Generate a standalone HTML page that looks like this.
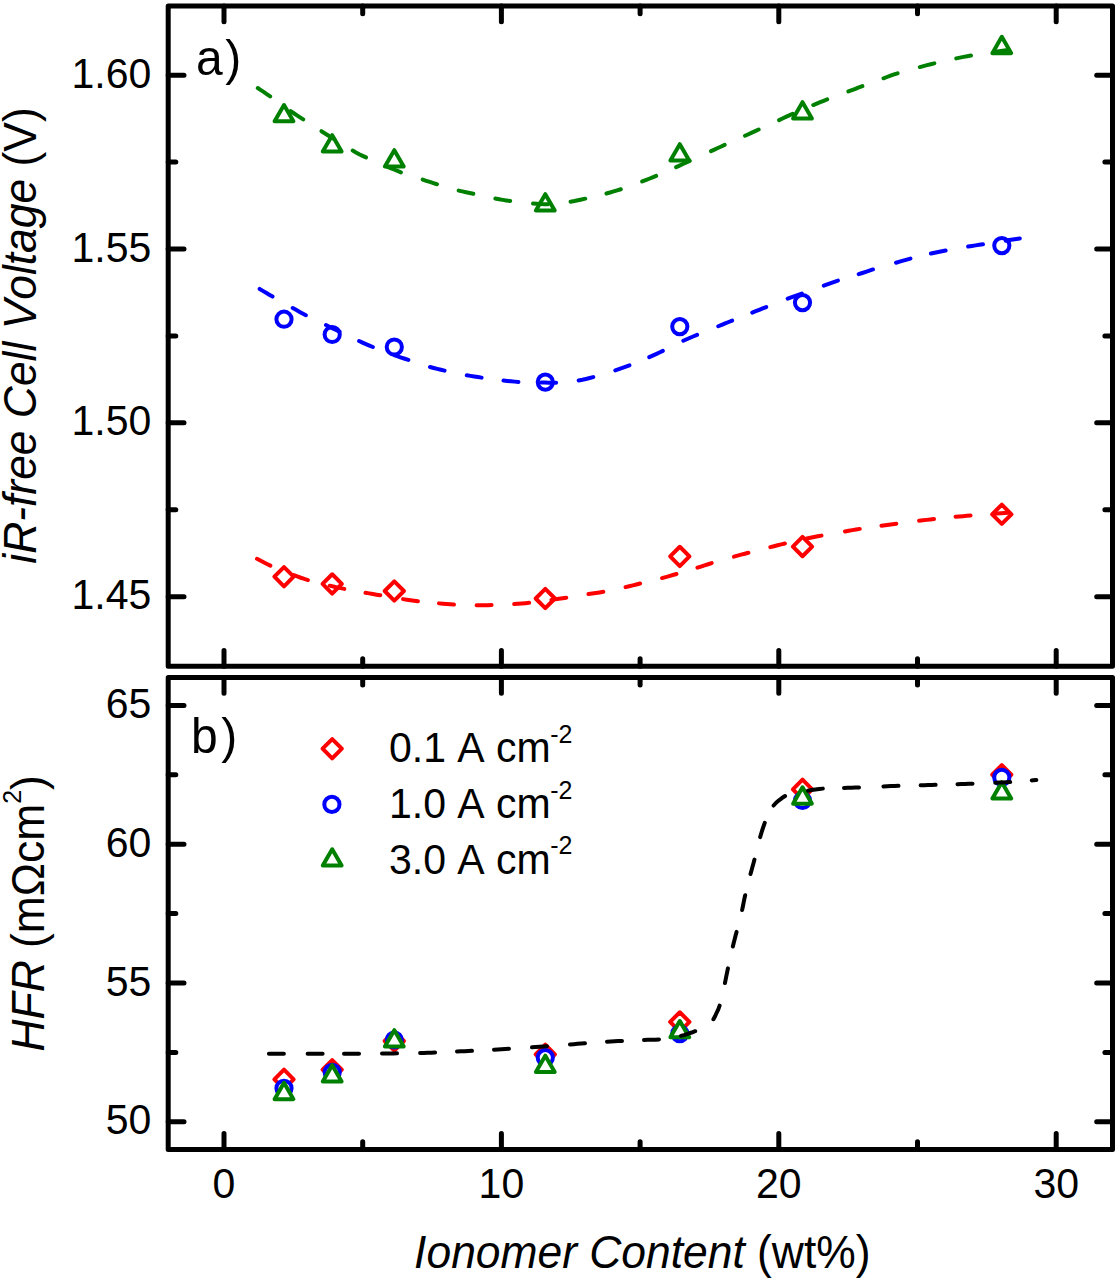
<!DOCTYPE html><html><head><meta charset="utf-8"><title>chart</title>
<style>html,body{margin:0;padding:0;background:#fff;width:1117px;height:1280px;overflow:hidden}svg{display:block}text{font-family:"Liberation Sans",sans-serif;fill:#000;font-kerning:none}</style></head><body>
<svg width="1117" height="1280" viewBox="0 0 1117 1280">
<rect x="0" y="0" width="1117" height="1280" fill="#fff"/>
<g fill="none" stroke="#000" stroke-width="5" stroke-linejoin="round" stroke-linecap="round">
<rect x="168.2" y="6.05" width="944.3" height="660.25"/>
<rect x="168.2" y="677.5" width="944.3" height="471.9"/>
<path d="M224,666.3v-15.8 M224,6.05v15.8 M501.4,666.3v-15.8 M501.4,6.05v15.8 M778.8,666.3v-15.8 M778.8,6.05v15.8 M1056.2,666.3v-15.8 M1056.2,6.05v15.8 M362.7,666.3v-7.6 M362.7,6.05v7.6 M640.1,666.3v-7.6 M640.1,6.05v7.6 M917.5,666.3v-7.6 M917.5,6.05v7.6 M168.2,596.7h15.8 M1112.5,596.7h-15.8 M168.2,422.85h15.8 M1112.5,422.85h-15.8 M168.2,249h15.8 M1112.5,249h-15.8 M168.2,75.15h15.8 M1112.5,75.15h-15.8 M168.2,509.77h7.6 M1112.5,509.77h-7.6 M168.2,335.93h7.6 M1112.5,335.93h-7.6 M168.2,162.08h7.6 M1112.5,162.08h-7.6 M224,1149.4v-15.8 M224,677.5v15.8 M501.4,1149.4v-15.8 M501.4,677.5v15.8 M778.8,1149.4v-15.8 M778.8,677.5v15.8 M1056.2,1149.4v-15.8 M1056.2,677.5v15.8 M362.7,1149.4v-7.6 M362.7,677.5v7.6 M640.1,1149.4v-7.6 M640.1,677.5v7.6 M917.5,1149.4v-7.6 M917.5,677.5v7.6 M168.2,1121.8h15.8 M1112.5,1121.8h-15.8 M168.2,983h15.8 M1112.5,983h-15.8 M168.2,844.2h15.8 M1112.5,844.2h-15.8 M168.2,705.4h15.8 M1112.5,705.4h-15.8 M168.2,1052.4h7.6 M1112.5,1052.4h-7.6 M168.2,913.6h7.6 M1112.5,913.6h-7.6 M168.2,774.8h7.6 M1112.5,774.8h-7.6"/>
</g>
<g font-size="41" text-anchor="end">
<text transform="translate(151.3,87.65) scale(1,1.04)" >1.60</text>
<text transform="translate(151.3,261.5) scale(1,1.04)" >1.55</text>
<text transform="translate(151.3,435.35) scale(1,1.04)" >1.50</text>
<text transform="translate(151.3,609.2) scale(1,1.04)" >1.45</text>
<text transform="translate(151.3,717.9) scale(1,1.04)" >65</text>
<text transform="translate(151.3,856.7) scale(1,1.04)" >60</text>
<text transform="translate(151.3,995.5) scale(1,1.04)" >55</text>
<text transform="translate(151.3,1134.3) scale(1,1.04)" >50</text>
</g>
<g font-size="41" text-anchor="middle">
<text transform="translate(224,1198.4) scale(1,1.04)" >0</text>
<text transform="translate(501.4,1198.4) scale(1,1.04)" >10</text>
<text transform="translate(778.8,1198.4) scale(1,1.04)" >20</text>
<text transform="translate(1056.2,1198.4) scale(1,1.04)" >30</text>
</g>
<text transform="translate(642.3,1268.2) scale(1,1.04)" font-size="44.4" text-anchor="middle"><tspan font-style="italic">Ionomer Content</tspan> (wt%)</text>
<text transform="translate(36,335.5) rotate(-90) scale(1,1.04)" font-size="44.4" text-anchor="middle"><tspan font-style="italic">iR-free Cell Voltage</tspan> (V)</text>
<text transform="translate(43.5,913.3) rotate(-90) scale(1,1.04)" font-size="44.4" text-anchor="middle"><tspan font-style="italic">HFR</tspan> (m&#937;cm<tspan font-size="25" dy="-21.2">2</tspan><tspan dy="21.2">)</tspan></text>
<text transform="translate(196,75) scale(1,1.04)" font-size="48">a<tspan dx="2.5">)</tspan></text>
<text transform="translate(191,753) scale(1,1.04)" font-size="48">b<tspan dx="3.5">)</tspan></text>
<g fill="none" stroke-width="4" stroke-linecap="round" stroke-linejoin="round">
<path d="M284,105.03L293.41,121.33L274.59,121.33Z" fill="#fff" stroke="#008000"/>
<path d="M332.2,135.13L341.61,151.43L322.79,151.43Z" fill="#fff" stroke="#008000"/>
<path d="M394.3,150.13L403.71,166.43L384.89,166.43Z" fill="#fff" stroke="#008000"/>
<path d="M545.3,194.13L554.71,210.43L535.89,210.43Z" fill="#fff" stroke="#008000"/>
<path d="M679.8,144.13L689.21,160.43L670.39,160.43Z" fill="#fff" stroke="#008000"/>
<path d="M802.5,102.13L811.91,118.43L793.09,118.43Z" fill="#fff" stroke="#008000"/>
<path d="M1001.8,36.83L1011.21,53.13L992.39,53.13Z" fill="#fff" stroke="#008000"/>
<path d="M257.76,88.02 260.88,90.1 263.99,92.19 267.1,94.29 270.19,96.41 M290.71,111.17 293.82,113.26 296.95,115.33 300.08,117.39 303.22,119.44 M321.49,131.19 324.66,133.19 327.84,135.19 331.02,137.18 334.19,139.17 M352.72,150.52 355.95,152.43 359.23,154.24 362.61,155.86 366.02,157.42 M387.06,166.62 390.52,168.08 393.98,169.53 397.44,170.96 400.92,172.37 M422.7,179.62 426.26,180.79 429.83,181.96 433.4,183.11 436.97,184.24 M458.64,190.58 462.29,191.42 465.96,192.2 469.64,192.95 473.31,193.72 M495.36,198.58 499.05,199.26 502.75,199.9 506.45,200.49 510.16,201.04 M532.99,203.56 536.73,203.86 540.47,204.1 544.22,204.24 547.97,204.23 M570.57,201.68 574.27,201.02 577.94,200.28 581.61,199.49 585.27,198.67 M606.43,193.48 610.05,192.48 613.65,191.45 617.24,190.36 620.81,189.23 M642.17,181.49 645.67,180.14 649.16,178.76 652.63,177.36 656.1,175.93 M676.12,167.17 679.52,165.6 682.92,164 686.31,162.4 689.71,160.82 M711.02,151.17 714.42,149.6 717.83,148.02 721.23,146.45 724.64,144.89 M745.02,135.78 748.44,134.22 751.85,132.66 755.25,131.1 758.66,129.54 M779.11,120.15 782.5,118.54 785.88,116.92 789.27,115.32 792.68,113.76 M813.25,105.03 816.71,103.6 820.18,102.18 823.66,100.78 827.15,99.41 M848.37,91.49 851.88,90.16 855.38,88.82 858.88,87.48 862.39,86.15 M883.48,78.31 886.99,77 890.51,75.71 894.05,74.46 897.61,73.29 M919.83,67.08 923.45,66.11 927.08,65.17 930.72,64.25 934.36,63.36 M956.26,58.39 959.93,57.63 963.61,56.9 967.29,56.21 970.98,55.54 M993.72,52.05 997.29,51.53 1000.86,51.02 1004.43,50.51 1008,50" stroke="#008000" stroke-width="4"/>
<circle cx="284" cy="319.2" r="7.6" fill="#fff" stroke="#0000ff"/>
<circle cx="332.2" cy="334.5" r="7.6" fill="#fff" stroke="#0000ff"/>
<circle cx="394.3" cy="347" r="7.6" fill="#fff" stroke="#0000ff"/>
<circle cx="545.3" cy="382.1" r="7.6" fill="#fff" stroke="#0000ff"/>
<circle cx="679.8" cy="326.6" r="7.6" fill="#fff" stroke="#0000ff"/>
<circle cx="802.5" cy="302.6" r="7.6" fill="#fff" stroke="#0000ff"/>
<circle cx="1001.8" cy="245.6" r="7.6" fill="#fff" stroke="#0000ff"/>
<path d="M259.62,288.92 262.84,290.85 266.06,292.77 269.29,294.68 272.52,296.57 M292.74,307.98 296.01,309.82 299.28,311.66 302.56,313.47 305.87,315.23 M326,325.07 329.37,326.72 332.74,328.36 336.11,330 339.48,331.64 M359.11,341.04 362.52,342.6 365.95,344.12 369.4,345.59 372.87,347.02 M394.15,355.12 397.7,356.34 401.25,357.55 404.81,358.73 408.36,359.92 M430.02,366.95 433.64,367.95 437.27,368.9 440.91,369.8 444.55,370.66 M466.77,375.26 470.46,375.9 474.16,376.5 477.87,377.08 481.58,377.63 M503.49,380.52 507.22,380.93 510.95,381.31 514.68,381.63 518.42,381.89 M541.11,382.54 544.86,382.6 548.61,382.67 552.36,382.74 556.11,382.74 M578.67,380.46 582.35,379.74 586.01,378.93 589.66,378.05 593.29,377.11 M615.3,370.37 618.85,369.17 622.39,367.92 625.9,366.62 629.41,365.29 M649.23,357.2 652.65,355.67 656.05,354.08 659.44,352.47 662.82,350.84 M683.31,340.76 686.74,339.22 690.18,337.73 693.63,336.28 697.09,334.84 M718.25,326.25 721.72,324.83 725.19,323.4 728.67,321.99 732.14,320.58 M752.26,312.56 755.74,311.17 759.23,309.79 762.71,308.4 766.2,307.02 M787.67,298.6 791.19,297.3 794.72,296.03 798.25,294.78 801.78,293.51 M823.78,285.62 827.3,284.33 830.82,283.04 834.36,281.79 837.92,280.6 M858.7,274.18 862.26,272.99 865.81,271.78 869.36,270.59 872.94,269.45 M896.02,262.74 899.61,261.66 903.2,260.59 906.81,259.55 910.43,258.57 M930.95,253.56 934.61,252.75 938.28,251.98 941.96,251.24 945.64,250.54 M968.17,246.57 971.87,245.97 975.58,245.38 979.28,244.8 982.99,244.22 M1005.71,240.65 1009.23,240.09 1012.75,239.53 1016.28,238.96 1019.8,238.4" stroke="#0000ff" stroke-width="4"/>
<path d="M284,567.05L293.65,576.7L284,586.35L274.35,576.7Z" fill="#fff" stroke="#ff0000"/>
<path d="M332.2,574.25L341.85,583.9L332.2,593.55L322.55,583.9Z" fill="#fff" stroke="#ff0000"/>
<path d="M394.3,581.35L403.95,591L394.3,600.65L384.65,591Z" fill="#fff" stroke="#ff0000"/>
<path d="M545.3,588.85L554.95,598.5L545.3,608.15L535.65,598.5Z" fill="#fff" stroke="#ff0000"/>
<path d="M679.8,546.75L689.45,556.4L679.8,566.05L670.15,556.4Z" fill="#fff" stroke="#ff0000"/>
<path d="M802.5,536.95L812.15,546.6L802.5,556.25L792.85,546.6Z" fill="#fff" stroke="#ff0000"/>
<path d="M1001.8,504.65L1011.45,514.3L1001.8,523.95L992.15,514.3Z" fill="#fff" stroke="#ff0000"/>
<path d="M256.98,558.82 260.3,560.56 263.63,562.28 266.98,563.96 270.37,565.58 M293.77,575.12 297.27,576.46 300.79,577.75 304.34,578.94 307.93,580.05 M329.64,585.67 333.29,586.53 336.95,587.35 340.62,588.12 344.3,588.86 M365.47,592.75 369.16,593.4 372.86,594.04 376.55,594.67 380.25,595.29 M403.07,599.12 406.78,599.71 410.48,600.28 414.2,600.8 417.92,601.27 M438.99,603.37 442.73,603.69 446.47,603.99 450.21,604.26 453.95,604.5 M476.6,605.22 480.35,605.22 484.1,605.19 487.85,605.13 491.6,605.05 M514.2,604.07 517.94,603.79 521.67,603.49 525.41,603.16 529.14,602.79 M551.44,599.91 555.15,599.37 558.86,598.82 562.57,598.25 566.28,597.68 M588.48,594.09 592.18,593.54 595.89,592.99 599.6,592.42 603.3,591.8 M625.55,587.15 629.19,586.27 632.83,585.36 636.47,584.44 640.1,583.52 M662.03,578.08 665.65,577.09 669.26,576.07 672.86,575.04 676.46,573.99 M697.41,567.7 700.98,566.55 704.54,565.39 708.11,564.23 711.68,563.1 M733.93,556.66 737.54,555.66 741.16,554.68 744.78,553.71 748.4,552.74 M770.34,547.11 773.97,546.19 777.61,545.27 781.25,544.37 784.89,543.49 M806.76,538.58 810.42,537.8 814.1,537.05 817.77,536.31 821.46,535.61 M844.97,531.45 848.66,530.79 852.35,530.13 856.05,529.5 859.75,528.9 M881.48,525.72 885.19,525.19 888.91,524.66 892.62,524.15 896.34,523.65 M919.09,520.76 922.81,520.31 926.53,519.87 930.26,519.45 933.99,519.03 M955.59,516.81 959.33,516.47 963.06,516.14 966.8,515.82 970.53,515.51 M993.47,513.75 997.21,513.49 1000.95,513.23 1004.69,512.97 1008.43,512.71" stroke="#ff0000" stroke-width="4"/>
<path d="M284,1069.65L293.65,1079.3L284,1088.95L274.35,1079.3Z" fill="#fff" stroke="#ff0000"/>
<path d="M332.2,1060.05L341.85,1069.7L332.2,1079.35L322.55,1069.7Z" fill="#fff" stroke="#ff0000"/>
<path d="M394.3,1031.35L403.95,1041L394.3,1050.65L384.65,1041Z" fill="#fff" stroke="#ff0000"/>
<path d="M545.3,1044.65L554.95,1054.3L545.3,1063.95L535.65,1054.3Z" fill="#fff" stroke="#ff0000"/>
<path d="M679.8,1012.25L689.45,1021.9L679.8,1031.55L670.15,1021.9Z" fill="#fff" stroke="#ff0000"/>
<path d="M802.5,779.65L812.15,789.3L802.5,798.95L792.85,789.3Z" fill="#fff" stroke="#ff0000"/>
<path d="M1001.8,765.05L1011.45,774.7L1001.8,784.35L992.15,774.7Z" fill="#fff" stroke="#ff0000"/>
<circle cx="284" cy="1088.3" r="7.6" fill="#fff" stroke="#0000ff"/>
<circle cx="332.2" cy="1072.3" r="7.6" fill="#fff" stroke="#0000ff"/>
<circle cx="394.3" cy="1040" r="7.6" fill="#fff" stroke="#0000ff"/>
<circle cx="545.3" cy="1057.6" r="7.6" fill="#fff" stroke="#0000ff"/>
<circle cx="679.8" cy="1033.6" r="7.6" fill="#fff" stroke="#0000ff"/>
<circle cx="802.5" cy="800.5" r="7.6" fill="#fff" stroke="#0000ff"/>
<circle cx="1001.8" cy="777.4" r="7.6" fill="#fff" stroke="#0000ff"/>
<path d="M284,1082.83L293.41,1099.13L274.59,1099.13Z" fill="#fff" stroke="#008000"/>
<path d="M332.2,1065.13L341.61,1081.43L322.79,1081.43Z" fill="#fff" stroke="#008000"/>
<path d="M394.3,1030.13L403.71,1046.43L384.89,1046.43Z" fill="#fff" stroke="#008000"/>
<path d="M545.3,1055.63L554.71,1071.93L535.89,1071.93Z" fill="#fff" stroke="#008000"/>
<path d="M679.8,1021.03L689.21,1037.33L670.39,1037.33Z" fill="#fff" stroke="#008000"/>
<path d="M802.5,787.33L811.91,803.63L793.09,803.63Z" fill="#fff" stroke="#008000"/>
<path d="M1001.8,782.13L1011.21,798.43L992.39,798.43Z" fill="#fff" stroke="#008000"/>
<path d="M268.9,1053.8 272.65,1053.8 276.4,1053.8 280.15,1053.81 283.9,1053.81 M307.63,1053.79 311.38,1053.78 315.13,1053.77 318.88,1053.76 322.63,1053.75 M344,1053.69 347.75,1053.67 351.5,1053.66 355.25,1053.64 359,1053.63 M382,1053.48 385.75,1053.45 389.5,1053.42 393.25,1053.39 397,1053.36 M420.11,1053 423.86,1052.89 427.61,1052.77 431.36,1052.64 435.1,1052.49 M457,1051.51 460.74,1051.34 464.49,1051.17 468.24,1051 471.98,1050.83 M494,1049.69 497.74,1049.47 501.48,1049.25 505.23,1049.02 508.97,1048.79 M532,1047.26 535.74,1047 539.48,1046.73 543.22,1046.46 546.96,1046.18 M569.99,1044.45 573.73,1044.16 577.47,1043.86 581.21,1043.57 584.95,1043.27 M607,1041.68 610.74,1041.46 614.48,1041.26 618.23,1041.07 621.98,1040.89 M644,1039.92 647.75,1039.83 651.5,1039.79 655.25,1039.72 658.99,1039.49 M680.94,1035.83 684.56,1034.83 688.14,1033.72 691.69,1032.51 695.21,1031.22 M713.43,1019.26 715.19,1015.95 716.73,1012.53 718.38,1009.16 719.62,1005.63 M724.93,983.05 725.69,979.37 726.42,975.7 727.16,972.02 727.93,968.35 M732.86,946.45 733.75,942.81 734.67,939.18 735.6,935.54 736.53,931.91 M742.15,909.95 742.91,906.28 743.62,902.6 744.36,898.92 745.17,895.26 M750.51,874.07 751.49,870.45 752.49,866.83 753.49,863.22 754.46,859.6 M760.14,837.08 761.21,833.48 762.32,829.9 763.5,826.34 764.75,822.8 M773.59,805.52 776.1,802.74 778.95,800.31 781.94,798.04 785.07,795.99 M807.98,790.69 811.68,790.09 815.38,789.52 819.1,789.01 822.83,788.62 M844,787.93 847.75,787.8 851.49,787.66 855.24,787.52 858.99,787.38 M883.47,786.41 887.22,786.26 890.97,786.12 894.71,785.98 898.46,785.85 M920.62,785.23 924.37,785.14 928.12,785.04 931.87,784.95 935.62,784.84 M957.5,784.17 961.25,784.05 964.99,783.92 968.74,783.79 972.49,783.66 M995.23,782.77 998.98,782.6 1002.72,782.43 1006.47,782.25 1010.21,782.04 M1031.77,780.39 1032.9,780.29 1034.04,780.19 1035.17,780.09 1036.3,780" stroke="#000000" stroke-width="4.0"/>
<path d="M332.2,739.05L341.85,748.7L332.2,758.35L322.55,748.7Z" fill="#fff" stroke="#ff0000"/>
<circle cx="331.9" cy="804.4" r="7.6" fill="#fff" stroke="#0000ff"/>
<path d="M332.2,849.23L341.61,865.53L322.79,865.53Z" fill="#fff" stroke="#008000"/>
</g>
<text transform="translate(389,762.3) scale(1,1.04)" font-size="41">0.1 A cm<tspan font-size="25" dx="-0.5" dy="-18.9">-2</tspan></text>
<text transform="translate(389,818.4) scale(1,1.04)" font-size="41">1.0 A cm<tspan font-size="25" dx="-0.5" dy="-18.9">-2</tspan></text>
<text transform="translate(389,874) scale(1,1.04)" font-size="41">3.0 A cm<tspan font-size="25" dx="-0.5" dy="-18.9">-2</tspan></text>
</svg></body></html>
